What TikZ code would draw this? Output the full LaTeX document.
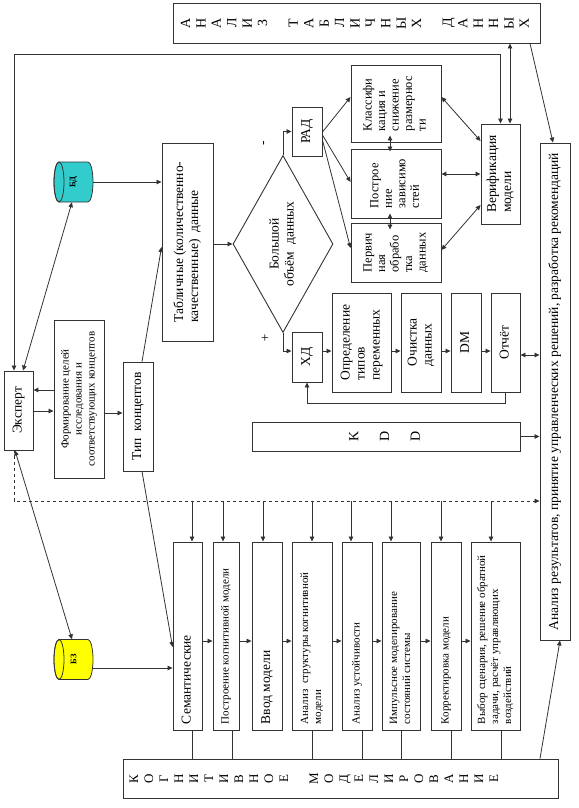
\documentclass[tikz,border=0pt]{standalone}
\usepackage{graphicx}
\usepackage{fontspec}
\setmainfont{Liberation Serif}
\usetikzlibrary{arrows.meta,shapes.geometric}

\definecolor{bdcolor}{RGB}{51,204,204}
\definecolor{bzcolor}{RGB}{255,255,0}

% 竖排文字
\newcommand{\rotl}[1]{\rotatebox{90}{\begin{tabular}{@{}l@{}}#1\end{tabular}}}
\newcommand{\rotc}[1]{\rotatebox{90}{\begin{tabular}{@{}c@{}}#1\end{tabular}}}
\newcommand{\rotp}[2]{\rotatebox{90}{\makebox[#1][l]{\begin{tabular}{@{}l@{}}#2\end{tabular}}}}
% 横放的圆柱 (中心 x, 中心 y, 颜色)
\newcommand{\dbdrum}[3]{%
    \filldraw[link, fill=#3] (#1-14.5,#2-20) -- (#1+14.5,#2-20)
        arc[start angle=90, end angle=-90, x radius=5pt, y radius=20pt] -- (#1-14.5,#2+20)
        arc[start angle=270, end angle=90, x radius=5pt, y radius=20pt] -- cycle;
    \draw[link] (#1-14.5,#2) ellipse [x radius=5pt, y radius=20pt];}

\begin{document}
\begin{tikzpicture}[x=1pt, y=-1pt,
    box/.style={draw=black!80, line width=0.9pt, inner sep=1pt},
    link/.style={draw=black!80, line width=0.8pt},
    arr/.style={link, -{Triangle[length=5pt,width=4.5pt]}},
    darr/.style={link, {Triangle[length=5pt,width=4.5pt]}-{Triangle[length=5pt,width=4.5pt]}},
    bigfont/.style={font=\fontsize{13.5}{15}\selectfont},
    smallfont/.style={font=\fontsize{11}{13}\selectfont},
    colfont/.style={font=\fontsize{12.5}{13.5}\selectfont},
    letterfont/.style={font=\fontsize{14}{15.4}\selectfont},
    dbfont/.style={font=\bfseries\fontsize{8.5}{9}\selectfont, minimum width=39pt, minimum height=40pt, inner sep=0pt}]

    \useasboundingbox (0,0) rectangle (578,808);

    % 上方框
    \node[box, letterfont, minimum width=367pt, minimum height=40pt] (analiz) at (356.5,23)
        {\rotc{А\\Н\\А\\Л\\И\\З\\ \\Т\\А\\Б\\Л\\И\\Ч\\Н\\Ы\\Х\\ \\Д\\А\\Н\\Н\\Ы\\Х}};

    % 数据库
    \dbdrum{73.5}{182}{bdcolor}
    \dbdrum{73.5}{659.5}{bzcolor}
    \node[dbfont] (bd) at (73.5,182) {\rotatebox{90}{БД}};
    \node[dbfont] (bz) at (73.5,659.5) {\rotatebox{90}{БЗ}};

    % 左侧
    \node[box, bigfont, minimum width=29pt, minimum height=79pt] (expert) at (18.5,410.5) {\rotc{Эксперт}};
    \node[box, smallfont, minimum width=50pt, minimum height=158pt] (form) at (79,399)
        {\rotc{Формирование целей\\исследования и\\соответствующих концептов}};
    \node[box, bigfont, minimum width=30pt, minimum height=109pt] (tip) at (138,416.5) {\rotc{Тип\ \ концептов}};
    \node[box, bigfont, minimum width=51pt, minimum height=198pt] (tabl) at (187.5,242)
        {\rotl{Табличные (количественно-\\качественные)\ \ данные}};

    % 菱形
    \node[draw=black!80, line width=0.9pt, diamond, aspect=0.56, minimum width=100pt, minimum height=177pt,
        inner sep=0pt, bigfont] (diam) at (283,244) {\rotc{Большой\\объём\ \ данных}};
    \node[bigfont] (minus) at (265,143) {\rotatebox{90}{-}};
    \node[bigfont] (plus) at (265,339) {+};

    % РАД
    \node[box, bigfont, minimum width=30pt, minimum height=49pt] (rad) at (307,131.5) {\rotc{РАД}};
    \node[box, colfont, minimum width=90pt, minimum height=77pt] (klass) at (396,103.5)
        {\rotl{Классифи\\кация и\\снижение\\размернос\\ти}};
    \node[box, colfont, minimum width=90pt, minimum height=69pt] (postr) at (396,183.5)
        {\rotl{Построе\\ние\\зависимо\\стей}};
    \node[box, colfont, minimum width=90pt, minimum height=59pt] (perv) at (396,252.5)
        {\rotl{Первич\\ная\\обрабо\\тка\\данных}};
    \node[box, bigfont, minimum width=39pt, minimum height=100pt] (verif) at (500.5,174) {\rotl{Верификация\\модели}};

    % ХД
    \node[box, bigfont, minimum width=30pt, minimum height=50pt] (hd) at (307,357) {\rotc{ХД}};
    \node[box, bigfont, minimum width=59pt, minimum height=99pt] (opr) at (361.5,342.5)
        {\rotl{Определение\\типов\\переменных}};
    \node[box, bigfont, minimum width=40pt, minimum height=99pt] (ochist) at (421,342.5) {\rotl{Очистка\\данных}};
    \node[box, bigfont, minimum width=30pt, minimum height=99pt] (dm) at (466,342.5) {\rotc{DM}};
    \node[box, bigfont, minimum width=29pt, minimum height=99pt] (otchet) at (505.5,342.5) {\rotc{Отчёт}};

    % KDD
    \node[box, letterfont, minimum width=268pt, minimum height=29pt] (kdd) at (386,436.5) {\rotc{K\\ \\D\\ \\D}};

    % 右侧
    \node[box, bigfont, minimum width=30pt, minimum height=497pt] (rez) at (555,391.5)
        {\rotc{Анализ результатов, принятие управленческих решений, разработка рекомендаций}};

    % 下方一排
    \node[box, bigfont, minimum width=29pt, minimum height=188pt] (b1) at (187.5,636) {\rotp{176pt}{Семантические}};
    \node[box, smallfont, minimum width=26pt, minimum height=188pt] (b2) at (226,636) {\rotp{176pt}{Построение когнитивной модели}};
    \node[box, bigfont, minimum width=30pt, minimum height=188pt] (b3) at (267,636) {\rotp{176pt}{Ввод модели}};
    \node[box, smallfont, minimum width=40pt, minimum height=188pt] (b4) at (312,636)
        {\rotp{176pt}{Анализ\ \ структуры когнитивной\\модели}};
    \node[box, smallfont, minimum width=30pt, minimum height=188pt] (b5) at (357,636) {\rotp{176pt}{Анализ устойчивости}};
    \node[box, smallfont, minimum width=38pt, minimum height=188pt] (b6) at (401,636)
        {\rotp{176pt}{Импульсное моделирование\\состояний системы}};
    \node[box, smallfont, minimum width=30pt, minimum height=188pt] (b7) at (446,636) {\rotp{176pt}{Корректировка модели}};
    \node[box, smallfont, minimum width=49pt, minimum height=188pt] (b8) at (495.5,636)
        {\rotp{176pt}{Выбор сценария, решение обратной\\задачи, расчёт управляющих\\воздействий}};

    % 底部框
    \node[box, minimum width=435pt, minimum height=39pt] (kogn) at (340.5,778.5) {};
    \node[font=\fontsize{13}{15}\selectfont] (kogntext) at (315,779)
        {\rotc{К\\О\\Г\\Н\\И\\Т\\И\\В\\Н\\О\\Е\\ \\М\\О\\Д\\Е\\Л\\И\\Р\\О\\В\\А\\Н\\И\\Е}};

    % 上方连线
    \draw[darr] ([xshift=-4.5pt]expert.north) -- ++(0,-316) -| (verif.north);
    \draw[darr] (verif.north -| 510,0) -- (analiz.south -| 510,0);
    \draw[arr] (analiz.south -| 530,0) -- ([xshift=-2pt]rez.north);

    % РАД 连线
    \draw[arr] (diam.north) |- (rad.west);
    \draw[arr] (rad.east |- 0,132) -- (klass.west |- 0,97);
    \draw[arr] (rad.east |- 0,135) -- (postr.west |- 0,182);
    \draw[arr] (rad.east |- 0,140) -- (perv.west |- 0,248);
    \draw[darr] (klass.east |- 0,97) -- (verif.west |- 0,141);
    \draw[darr] (postr.east |- 0,174) -- (verif.west |- 0,174);
    \draw[darr] (perv.east |- 0,250) -- (verif.west |- 0,205);
    \draw[darr, shorten <=-7pt, shorten >=-3pt] (klass.south -| 390,0) -- (postr.north -| 390,0);
    \draw[darr, shorten <=-5pt, shorten >=-7pt] (postr.south -| 390,0) -- (perv.north -| 390,0);

    % ХД 连线
    \draw[arr] (tabl.east |- diam.west) -- (diam.west);
    \draw[arr] (diam.south) |- (hd.west |- 0,351);
    \foreach \a/\b in {hd/opr, opr/ochist, ochist/dm, dm/otchet}
        \draw[arr] (\a.east |- 0,351) -- (\b.west |- 0,351);
    \draw[darr] (otchet.east |- 0,355) -- (rez.west |- 0,355);
    \draw[arr] (otchet.south) -- ++(0,11) -| (hd.south);
    \draw[arr] (kdd.east) -- (rez.west |- kdd.east);

    % 虚线
    \coordinate (dashy) at (0,501);
    \draw[arr, dashed] ([xshift=-4.5pt]expert.south) |- (rez.west |- dashy);
    \foreach \b/\x in {b1/192, b2/223, b3/263, b4/312, b5/351, b6/391, b7/441, b8/491}
        \draw[arr] (dashy -| \x,0) -- (\b.north -| \x,0);

    % 下方连线
    \foreach \a/\b in {b1/b2, b2/b3, b3/b4, b4/b5, b5/b6, b6/b7, b7/b8}
        \draw[arr] (\a.east |- 0,641) -- (\b.west |- 0,641);
    \foreach \b/\x in {b1/192, b2/232, b4/312, b5/362, b6/401, b7/451, b8/501}
        \draw[link] (\b.south -| \x,0) -- (kogn.north -| \x,0);
    \draw[arr] (kogn.north -| 540,0) -- (rez.south -| 560,0);

    % 左侧连线
    \draw[arr] (form.west |- 0,390) -- (expert.east |- 0,390);
    \draw[arr] (expert.east |- 0,411) -- (form.west |- 0,411);
    \draw[arr] (form.east |- 0,413) -- (tip.west |- 0,413);
    \draw[arr] (tip.north -| 142,0) -- (tabl.west |- 0,247);
    \draw[arr] (tip.south -| 142,0) -- (b1.west |- 0,647);
    \draw[arr] (bd.east) -- (tabl.west |- bd.east);
    \draw[arr] (bz.east |- 0,668) -- (b1.west |- 0,668);
    \draw[darr] ([xshift=4.5pt]expert.north) -- ([xshift=-1.5pt]bd.south);
    \draw[darr] ([xshift=-3.5pt]expert.south) -- ([xshift=-1.5pt]bz.north);

\end{tikzpicture}
\end{document}
